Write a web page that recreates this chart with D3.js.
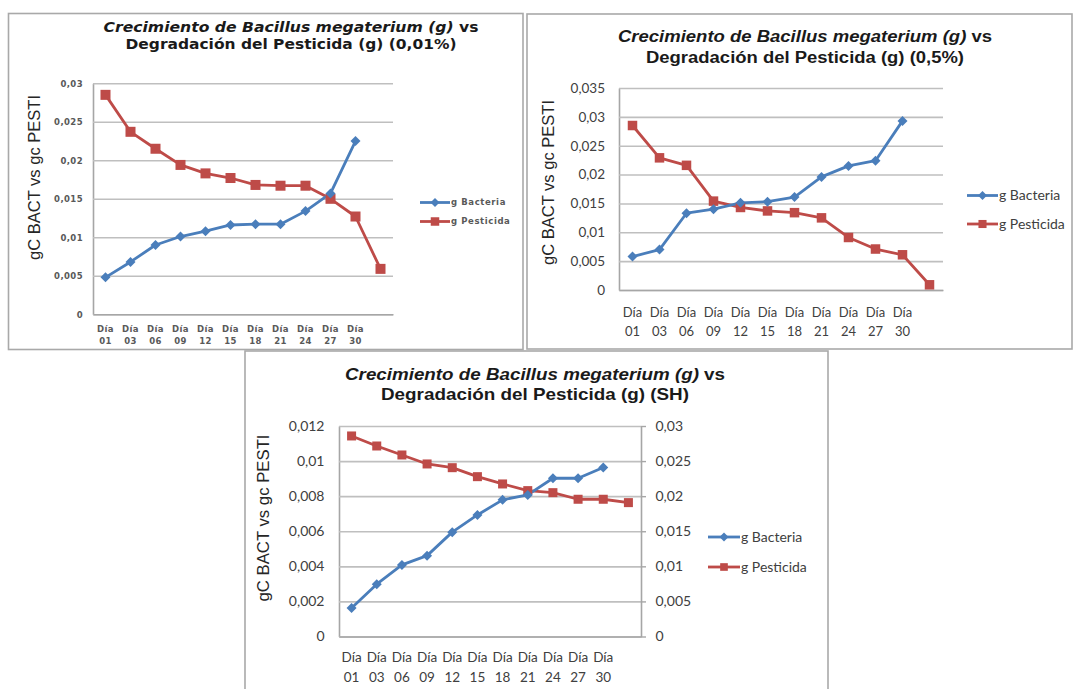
<!DOCTYPE html>
<html><head><meta charset="utf-8">
<script src="https://cdn.jsdelivr.net/npm/d3@7"></script>
<style>body{margin:0;background:#fff}svg{display:block}</style>
</head><body>
<svg id="c" width="1074" height="689"></svg>
<script>
// ---------- DATA ----------
const dias = ["01","03","06","09","12","15","18","21","24","27","30",""];
const tituloItalic = "Crecimiento de Bacillus megaterium (g)";
const tituloVs = " vs";
const subtitulos = ["Degradación del Pesticida (g) (0,01%)", "Degradación del Pesticida (g) (0,5%)", "Degradación del Pesticida (g) (SH)"];
const ejeY = "gC BACT vs gc PESTI";
const seriesNames = ["g Bacteria", "g Pesticida"];

const bact001 = [0.0048,0.0068,0.0090,0.0101,0.0108,0.0116,0.0117,0.0117,0.0134,0.0157,0.0225];
const pest001 = [0.0285,0.0237,0.0215,0.0194,0.0183,0.0177,0.0168,0.0167,0.0167,0.0150,0.0127,0.0059];
const ticks001 = [0,0.005,0.01,0.015,0.02,0.025,0.03];

const bact05 = [0.0058,0.0070,0.0133,0.0140,0.0151,0.0153,0.0161,0.0196,0.0215,0.0224,0.0293];
const pest05 = [0.0285,0.0229,0.0216,0.0154,0.0143,0.0137,0.0134,0.0125,0.0091,0.0071,0.0061,0.0009];
const ticks05 = [0,0.005,0.01,0.015,0.02,0.025,0.03,0.035];

const bactSH = [0.00162,0.00298,0.00408,0.00461,0.00595,0.00693,0.00779,0.00807,0.00902,0.00902,0.00963];
const pestSH = [0.02858,0.02715,0.02587,0.02459,0.02406,0.02278,0.02174,0.02079,0.02050,0.01956,0.01956,0.01908];
const ticksSHleft = [0,0.002,0.004,0.006,0.008,0.01,0.012];
const ticksSHright = [0,0.005,0.01,0.015,0.02,0.025,0.03];

// ---------- STYLE / LAYOUT ----------
const BLUE = "#4a7ebb", RED = "#be4b48";
const fmt = d => String(+d.toFixed(4)).replace(".", ",");
const svg = d3.select("#c");

const charts = [
  {frame:[8.5,13.5,523,349.5], left:93, right:393, top:83.3, bottom:314.3, bact:bact001, pest:pest001, ticks:ticks001,
   title:{x:291, y1:31.5, y2:49, w1:375, w2:331, font:"DejaVu Sans", size:14}, sub:subtitulos[0],
   ylab:{x:34, y:177.5, len:165, size:16}, tickFont:"DejaVu Sans", tickWeight:"bold", tickSize:8.5, tickFill:"#595959", tickPad:10, ls:0.4,
   xl1:18, xl2:30, legend:{x1:420, x2:450, y1:202.5, y2:221.5, size:8.5}, sq:10, dm:5, lw:2.8},
  {frame:[527,14,1072,349], left:619, right:943, top:88, bottom:290, bact:bact05, pest:pest05, ticks:ticks05,
   title:{x:805, y1:42, y2:63, w1:374, w2:318, font:"Liberation Sans", size:16}, sub:subtitulos[1],
   ylab:{x:548, y:182.5, len:165, size:16}, tickFont:"Lato", tickWeight:"normal", tickSize:13.5, tickFill:"#404040", tickPad:14, ls:0,
   xl1:27, xl2:45.5, legend:{x1:967, x2:998, y1:195.5, y2:224, size:14}, sq:9.5, dm:5, lw:2.8},
  {frame:[245,351,828,700], left:339, right:641, top:426, bottom:636.5, bact:bactSH, pest:pestSH, ticks:ticksSHleft, ticksR:ticksSHright,
   title:{x:535, y1:380, y2:400, w1:380, w2:308, font:"Liberation Sans", size:16.5}, sub:subtitulos[2],
   ylab:{x:263, y:518, len:167, size:16}, tickFont:"Lato", tickWeight:"normal", tickSize:14, tickFill:"#404040", tickPad:14.5, ls:0,
   xl1:25.5, xl2:45, legend:{x1:708, x2:740, y1:537, y2:567, size:14}, sq:9, dm:5, lw:2.8}
];

function diamond(g, cx, cy, r, color){
  g.append("path").attr("d", `M${cx},${cy-r}L${cx+r},${cy}L${cx},${cy+r}L${cx-r},${cy}Z`).attr("fill", color);
}
function square(g, cx, cy, s, color){
  g.append("rect").attr("x", cx-s/2).attr("y", cy-s/2).attr("width", s).attr("height", s).attr("fill", color);
}

charts.forEach(c => {
  const g = svg.append("g");
  const [fx1, fy1, fx2, fy2] = c.frame;
  g.append("rect").attr("x", fx1).attr("y", fy1).attr("width", fx2-fx1).attr("height", fy2-fy1)
    .attr("fill", "#fff").attr("stroke", "#a9a9a9").attr("stroke-width", 1.6);

  const x = d3.scaleBand().domain(d3.range(dias.length)).range([c.left, c.right]).padding(0);
  const yMax = c.ticks[c.ticks.length-1];
  const y = d3.scaleLinear().domain([0, yMax]).range([c.bottom, c.top]);
  const yR = c.ticksR ? d3.scaleLinear().domain([0, c.ticksR[c.ticksR.length-1]]).range([c.bottom, c.top]) : y;
  const cx = i => x(i) + x.bandwidth()/2;

  // gridlines + left axis
  const ya = g.append("g").attr("transform", `translate(${c.left},0)`)
    .call(d3.axisLeft(y).tickValues(c.ticks).tickFormat(fmt).tickSizeInner(-(c.right-c.left)).tickSizeOuter(0).tickPadding(c.tickPad));
  ya.selectAll(".tick line").attr("stroke", "#bfbfbf").attr("stroke-width", 1.6);
  ya.select(".domain").attr("stroke", "#a6a6a6").attr("stroke-width", 1.6);
  ya.selectAll("text").attr("font-family", c.tickFont).attr("font-weight", c.tickWeight)
    .attr("font-size", c.tickSize).attr("fill", c.tickFill).attr("letter-spacing", c.ls);

  if (c.ticksR) {
    const yra = g.append("g").attr("transform", `translate(${c.right},0)`)
      .call(d3.axisRight(yR).tickValues(c.ticksR).tickFormat(fmt).tickSizeInner(5).tickSizeOuter(0).tickPadding(9.5));
    yra.selectAll(".tick line").attr("stroke", "#a6a6a6").attr("stroke-width", 1.4);
    yra.select(".domain").attr("stroke", "#a6a6a6").attr("stroke-width", 1.6);
    yra.selectAll("text").attr("font-family", c.tickFont).attr("font-size", c.tickSize).attr("fill", c.tickFill);
  }

  // bottom axis
  const xa = g.append("g").attr("transform", `translate(0,${c.bottom})`)
    .call(d3.axisBottom(x).tickSize(0).tickFormat(""));
  xa.select(".domain").attr("stroke", "#a6a6a6").attr("stroke-width", 1.6);
  xa.selectAll(".tick").each(function(i){
    if (!dias[i]) return;
    const t = d3.select(this).append("text").attr("text-anchor", "middle")
      .attr("font-family", c.tickFont).attr("font-weight", c.tickWeight).attr("font-size", c.tickSize - (c.tickFont==="Lato"?0.5:0))
      .attr("fill", c.tickFill).attr("letter-spacing", c.ls);
    t.append("tspan").attr("x", 0).attr("y", c.xl1).text("Día");
    t.append("tspan").attr("x", 0).attr("y", c.xl2).text(dias[i]);
  });

  // lines
  const lineB = d3.line().x((d,i) => cx(i)).y(d => y(d));
  const lineP = d3.line().x((d,i) => cx(i)).y(d => yR(d));
  g.append("path").datum(c.pest).attr("d", lineP).attr("fill","none").attr("stroke", RED).attr("stroke-width", c.lw).attr("stroke-linejoin","round");
  g.append("path").datum(c.bact).attr("d", lineB).attr("fill","none").attr("stroke", BLUE).attr("stroke-width", c.lw).attr("stroke-linejoin","round");
  c.pest.forEach((d,i) => square(g, cx(i), yR(d), c.sq, RED));
  c.bact.forEach((d,i) => diamond(g, cx(i), y(d), c.dm, BLUE));

  // title
  const t1 = g.append("text").attr("x", c.title.x).attr("y", c.title.y1).attr("text-anchor","middle")
    .attr("font-family", c.title.font).attr("font-weight","bold").attr("font-size", c.title.size).attr("fill","#1a1a1a")
    .attr("textLength", c.title.w1).attr("lengthAdjust","spacingAndGlyphs");
  t1.append("tspan").attr("font-style","italic").text(tituloItalic);
  t1.append("tspan").text(tituloVs);
  g.append("text").attr("x", c.title.x).attr("y", c.title.y2).attr("text-anchor","middle")
    .attr("font-family", c.title.font).attr("font-weight","bold").attr("font-size", c.title.size).attr("fill","#1a1a1a")
    .attr("textLength", c.title.w2).attr("lengthAdjust","spacingAndGlyphs").text(c.sub);

  // y label
  g.append("text").attr("transform", `translate(${c.ylab.x},${c.ylab.y}) rotate(-90)`).attr("text-anchor","middle")
    .attr("dy","0.35em").attr("font-family","Liberation Sans").attr("font-size", c.ylab.size).attr("fill","#262626")
    .attr("textLength", c.ylab.len).attr("lengthAdjust","spacingAndGlyphs").text(ejeY);

  // legend
  const L = c.legend;
  [[L.y1, BLUE, "d"], [L.y2, RED, "s"]].forEach(([ly, col, m], k) => {
    g.append("line").attr("x1", L.x1).attr("x2", L.x2).attr("y1", ly).attr("y2", ly).attr("stroke", col).attr("stroke-width", c.lw);
    const mx = (L.x1 + L.x2)/2;
    if (m === "d") diamond(g, mx, ly, c.dm*0.9, col); else square(g, mx, ly, c.sq*0.85, col);
    g.append("text").attr("x", L.x2 + 1).attr("y", ly).attr("dy","0.35em")
      .attr("font-family", c.tickFont).attr("font-weight", c.tickWeight).attr("font-size", L.size).attr("fill", c.tickFill)
      .attr("letter-spacing", c.ls * 1.5).text(seriesNames[k]);
  });
});
</script>
</body></html>
